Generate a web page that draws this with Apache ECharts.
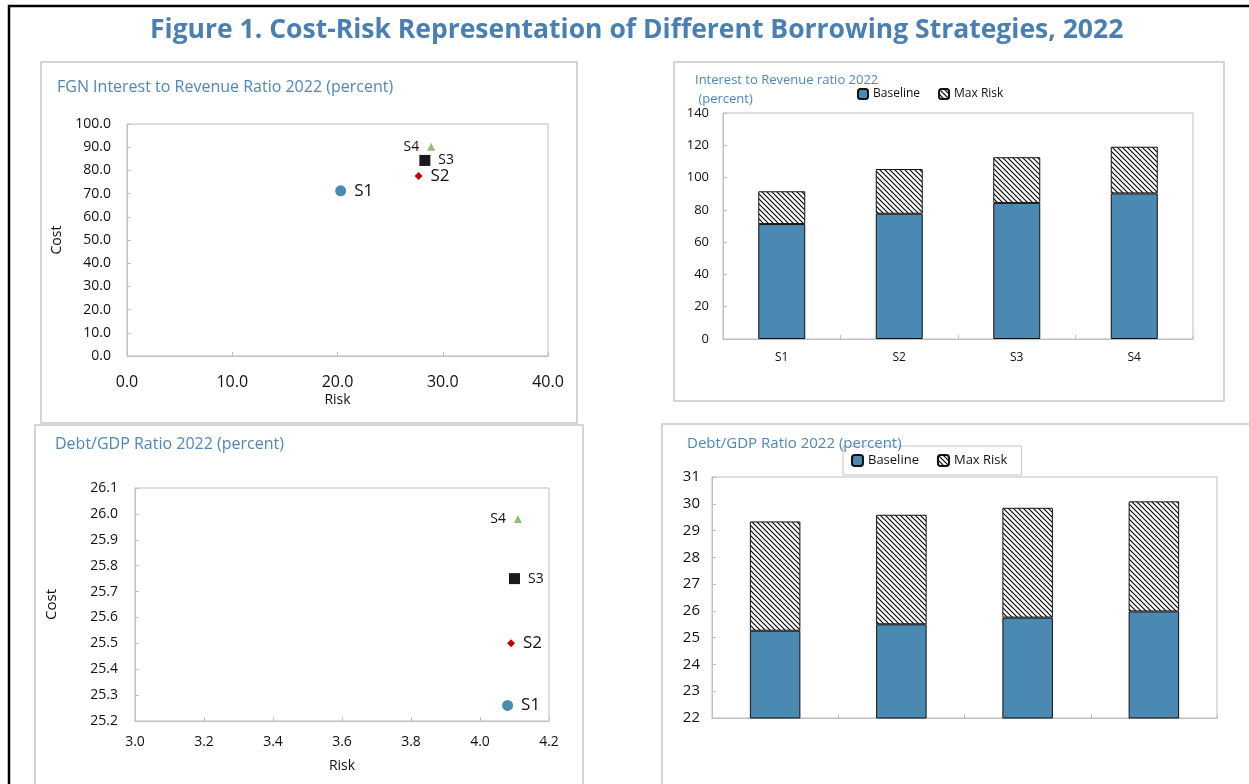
<!DOCTYPE html>
<html>
<head>
<meta charset="utf-8">
<title>Cost-Risk Representation of Different Borrowing Strategies, 2022</title>
<script src="https://cdn.jsdelivr.net/npm/echarts@6/dist/echarts.min.js"></script>
<style>
  html, body { margin: 0; padding: 0; background: #fff; }
  #main { width: 1249px; height: 784px; }
</style>
</head>
<body>
<div id="main"></div>
<script>
// strategies and their cost / risk values
var strategies = ['S1', 'S2', 'S3', 'S4'];
var irBaseline = [71.2, 77.6, 84.3, 90.2];   // interest to revenue, baseline (cost)
var irMaxRisk = [20.3, 27.7, 28.3, 28.9];    // interest to revenue, max risk add-on (risk)
var dgBaseline = [25.26, 25.50, 25.75, 25.98]; // debt/GDP, baseline (cost)
var dgMaxRisk = [4.08, 4.09, 4.10, 4.11];      // debt/GDP, max risk add-on (risk)

// axis ranges / ticks  [min, max, interval]
var irScatterX = [0, 40, 10];
var irScatterY = [0, 100, 10];
var irBarY = [0, 140, 20];
var dgScatterX = [3.0, 4.2, 0.2];
var dgScatterY = [25.2, 26.1, 0.1];
var dgBarY = [22, 31, 1];

var FONT = '"Open Sans", "Noto Sans", sans-serif';
var BLUE_TXT = '#4f86bb';
var GRID_LINE = '#bfbfbf';
var TXT = '#111';

// marker styles for each strategy
var markerStyles = [
  { symbol: 'circle', size: 11, color: '#4a8bb3', pos: 'right', fs: 17 },
  { symbol: 'diamond', size: 8, color: '#c00000', pos: 'right', fs: 17 },
  { symbol: 'rect', size: 11, color: '#1a1a1a', pos: 'right', fs: 14 },
  { symbol: 'triangle', size: 8, color: '#8dbf6f', pos: 'left', fs: 14 }
];

// hatch fill  (\\\)
function makeHatch() {
  var c = document.createElement('canvas');
  c.width = 5; c.height = 5;
  var ctx = c.getContext('2d');
  ctx.fillStyle = '#fff';
  ctx.fillRect(0, 0, 5, 5);
  ctx.strokeStyle = '#000';
  ctx.lineWidth = 1.1;
  ctx.beginPath();
  ctx.moveTo(-1, -1); ctx.lineTo(6, 6);
  ctx.moveTo(-1, 4); ctx.lineTo(1, 6);
  ctx.moveTo(4, -1); ctx.lineTo(6, 1);
  ctx.stroke();
  return c;
}
var hatch = makeHatch();

function scatterData(risk, cost) {
  return strategies.map(function (s, i) {
    var m = markerStyles[i];
    return {
      name: s,
      value: [risk[i], cost[i]],
      symbol: m.symbol,
      symbolSize: m.size,
      itemStyle: { color: m.color, opacity: 1 },
      label: { show: true, position: m.pos, formatter: s, fontSize: m.fs, distance: 8, color: TXT, fontFamily: FONT }
    };
  });
}

function valueAxis(idx, r, opt) {
  return Object.assign({
    type: 'value', gridIndex: idx, min: r[0], max: r[1], interval: r[2],
    axisLine: { show: true, lineStyle: { color: GRID_LINE } },
    axisTick: { show: true, inside: true, length: 4, lineStyle: { color: GRID_LINE } },
    splitLine: { show: false },
    axisLabel: { color: TXT, fontFamily: FONT }
  }, opt);
}

var chart = echarts.init(document.getElementById('main'));

var option = {
  animation: false,
  backgroundColor: '#fff',
  textStyle: { fontFamily: FONT },
  title: [
    { text: 'Figure 1. Cost-Risk Representation of Different Borrowing Strategies, 2022', left: 150, top: 14, padding: 0,
      textStyle: { fontSize: 26.5, fontWeight: 'bold', color: '#4a7fb1', fontFamily: FONT, lineHeight: 32 } },
    { text: 'FGN Interest to Revenue Ratio 2022 (percent)', left: 57, top: 77, padding: 0,
      textStyle: { fontSize: 16, fontWeight: 'normal', color: BLUE_TXT, fontFamily: FONT, lineHeight: 20 } },
    { text: 'Interest to Revenue ratio 2022\n (percent)', left: 695, top: 71, padding: 0,
      textStyle: { fontSize: 13, fontWeight: 'normal', color: BLUE_TXT, fontFamily: FONT, lineHeight: 19 } },
    { text: 'Debt/GDP Ratio 2022 (percent)', left: 55, top: 434, padding: 0,
      textStyle: { fontSize: 16, fontWeight: 'normal', color: BLUE_TXT, fontFamily: FONT, lineHeight: 20 } },
    { text: 'Debt/GDP Ratio 2022 (percent)', left: 687, top: 435, padding: 0,
      textStyle: { fontSize: 15, fontWeight: 'normal', color: BLUE_TXT, fontFamily: FONT, lineHeight: 18 } }
  ],
  legend: [
    { data: ['Baseline', 'Max Risk'], left: 857, top: 88, padding: 0, itemWidth: 10, itemHeight: 10, itemGap: 18,
      textStyle: { fontSize: 12, color: TXT, fontFamily: FONT }, selectedMode: false },
    { data: ['Baseline', 'Max Risk'], left: 843, top: 446, padding: [8, 14, 8, 8], itemWidth: 11, itemHeight: 11, itemGap: 18,
      borderColor: '#c4c4c4', borderWidth: 1,
      textStyle: { fontSize: 13, color: TXT, fontFamily: FONT }, selectedMode: false }
  ],
  grid: [
    { left: 127, top: 124, width: 421, height: 232, show: true, borderColor: GRID_LINE, borderWidth: 1 },
    { left: 723, top: 113, width: 470, height: 226, show: true, borderColor: GRID_LINE, borderWidth: 1 },
    { left: 135, top: 488, width: 414, height: 233, show: true, borderColor: GRID_LINE, borderWidth: 1 },
    { left: 712, top: 477, width: 505, height: 241, show: true, borderColor: GRID_LINE, borderWidth: 1 }
  ],
  xAxis: [
    valueAxis(0, irScatterX, {
      name: 'Risk', nameLocation: 'middle', nameGap: 37, nameTextStyle: { fontSize: 14, color: TXT, fontFamily: FONT },
      axisLabel: { fontSize: 16, margin: 18, color: TXT, fontFamily: FONT, formatter: function (v) { return v.toFixed(1); } }
    }),
    { type: 'category', gridIndex: 1, data: strategies,
      axisLine: { lineStyle: { color: GRID_LINE } },
      axisTick: { show: true, inside: true, length: 4, lineStyle: { color: GRID_LINE } },
      axisLabel: { fontSize: 12, margin: 13, color: TXT, fontFamily: FONT } },
    valueAxis(2, dgScatterX, {
      name: 'Risk', nameLocation: 'middle', nameGap: 38, nameTextStyle: { fontSize: 14, color: TXT, fontFamily: FONT },
      axisLabel: { fontSize: 14, margin: 14, color: TXT, fontFamily: FONT, formatter: function (v) { return v.toFixed(1); } }
    }),
    { type: 'category', gridIndex: 3, data: strategies,
      axisLine: { lineStyle: { color: GRID_LINE } },
      axisTick: { show: true, inside: true, length: 4, lineStyle: { color: GRID_LINE } },
      axisLabel: { show: false } }
  ],
  yAxis: [
    valueAxis(0, irScatterY, {
      name: 'Cost', nameLocation: 'middle', nameGap: 63, nameTextStyle: { fontSize: 14, color: TXT, fontFamily: FONT },
      axisLabel: { fontSize: 14, margin: 16, color: TXT, fontFamily: FONT, formatter: function (v) { return v.toFixed(1); } }
    }),
    valueAxis(1, irBarY, {
      axisLabel: { fontSize: 13, margin: 14, color: TXT, fontFamily: FONT }
    }),
    valueAxis(2, dgScatterY, {
      name: 'Cost', nameLocation: 'middle', nameGap: 76, nameTextStyle: { fontSize: 15, color: TXT, fontFamily: FONT },
      axisLabel: { fontSize: 14, margin: 17, color: TXT, fontFamily: FONT, formatter: function (v) { return v.toFixed(1); } }
    }),
    valueAxis(3, dgBarY, {
      axisLabel: { fontSize: 15, margin: 12, color: TXT, fontFamily: FONT }
    })
  ],
  series: [
    { type: 'scatter', xAxisIndex: 0, yAxisIndex: 0, data: scatterData(irMaxRisk, irBaseline) },
    { name: 'Baseline', type: 'bar', xAxisIndex: 1, yAxisIndex: 1, stack: 'ir', barWidth: '40%', data: irBaseline,
      itemStyle: { color: '#4a89b1', borderColor: '#111', borderWidth: 1 } },
    { name: 'Max Risk', type: 'bar', xAxisIndex: 1, yAxisIndex: 1, stack: 'ir', barWidth: '40%', data: irMaxRisk,
      itemStyle: { color: { image: hatch, repeat: 'repeat' }, borderColor: '#111', borderWidth: 1 } },
    { type: 'scatter', xAxisIndex: 2, yAxisIndex: 2, data: scatterData(dgMaxRisk, dgBaseline) },
    { name: 'Baseline', type: 'bar', xAxisIndex: 3, yAxisIndex: 3, stack: 'dg', barWidth: '40%', data: dgBaseline,
      itemStyle: { color: '#4a89b1', borderColor: '#111', borderWidth: 1 } },
    { name: 'Max Risk', type: 'bar', xAxisIndex: 3, yAxisIndex: 3, stack: 'dg', barWidth: '40%', data: dgMaxRisk,
      itemStyle: { color: { image: hatch, repeat: 'repeat' }, borderColor: '#111', borderWidth: 1 } }
  ],
  graphic: [
    // panel frames
    { type: 'rect', shape: { x: 41, y: 62, width: 536, height: 361 }, style: { fill: null, stroke: '#c8c8c8', lineWidth: 1.5 }, z: -1 },
    { type: 'rect', shape: { x: 674, y: 62, width: 550, height: 339 }, style: { fill: null, stroke: '#c8c8c8', lineWidth: 1.5 }, z: -1 },
    { type: 'rect', shape: { x: 35, y: 425, width: 548, height: 380 }, style: { fill: null, stroke: '#c8c8c8', lineWidth: 1.5 }, z: -1 },
    { type: 'rect', shape: { x: 662, y: 424, width: 600, height: 380 }, style: { fill: null, stroke: '#c8c8c8', lineWidth: 1.5 }, z: -1 },
    // outer frame
    { type: 'polyline', shape: { points: [[9, 800], [9, 6], [1260, 6]] }, style: { fill: null, stroke: '#000', lineWidth: 2.5 } }
  ]
};

chart.setOption(option);

window.addEventListener('resize', function () {
  chart.resize();
});
</script>
</body>
</html>
